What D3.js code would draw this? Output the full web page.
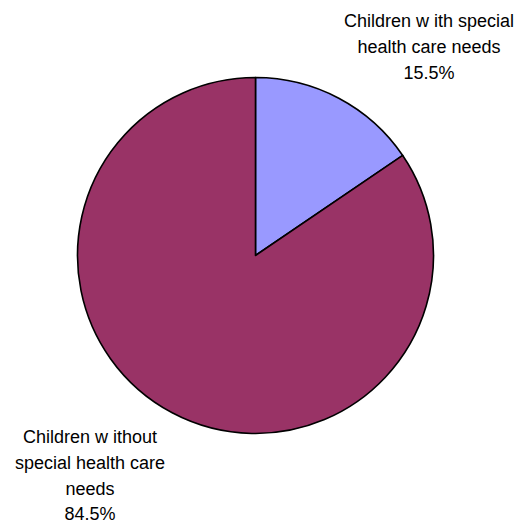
<!DOCTYPE html>
<html><head><meta charset="utf-8">
<script src="https://cdn.jsdelivr.net/npm/d3@7"></script>
<style>html,body{margin:0;padding:0;background:#fff;}</style>
</head><body>
<svg id="chart" width="519" height="524"></svg>
<script>
const categories = ["Children with special health care needs", "Children without special health care needs"];
const values = [15.5, 84.5];
const colors = ["#9999FF", "#993366"];
const labelLines = [
  ["Children w ith special", "health care needs", "15.5%"],
  ["Children w ithout", "special health care", "needs", "84.5%"]
];

const svg = d3.select("#chart");
const cx = 255.5, cy = 255.5, r = 178;
const pie = d3.pie().sort(null).value(d => d)(values);
const arc = d3.arc().innerRadius(0).outerRadius(r);
const g = svg.append("g").attr("transform", `translate(${cx},${cy})`);
g.selectAll("path").data(pie).enter().append("path")
  .attr("d", arc)
  .attr("fill", (d, i) => colors[i])
  .attr("stroke", "#000")
  .attr("stroke-width", 1.6)
  .attr("stroke-linejoin", "round");

const labelPos = [{x: 429, y: 27}, {x: 90, y: 443}];
const lh = 25.8;
labelLines.forEach((lines, i) => {
  const t = svg.append("text")
    .attr("text-anchor", "middle")
    .attr("font-family", "Liberation Sans, Arial, sans-serif")
    .attr("font-size", 18)
    .attr("fill", "#000");
  lines.forEach((ln, j) => {
    t.append("tspan").attr("x", labelPos[i].x).attr("y", labelPos[i].y + j * lh).text(ln);
  });
});
</script>
</body></html>
